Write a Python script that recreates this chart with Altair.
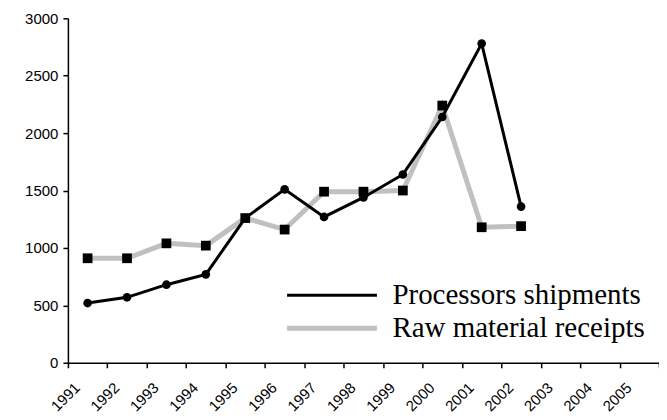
import altair as alt
import pandas as pd

years = list(range(1991, 2003))
processors = [520, 570, 680, 770, 1260, 1510, 1270, 1440, 1640, 2140, 2780, 1360]
raw = [910, 910, 1040, 1020, 1260, 1160, 1490, 1490, 1500, 2240, 1180, 1190]
tick_years = list(range(1991, 2007))
y_ticks = [0, 500, 1000, 1500, 2000, 2500, 3000]
series_names = ["Processors shipments", "Raw material receipts"]

rows = []
for yr, p, r in zip(years, processors, raw):
    rows.append({"year": yr, "series": series_names[0], "value": p})
    rows.append({"year": yr, "series": series_names[1], "value": r})
df = pd.DataFrame(rows)

base = alt.Chart(df).transform_calculate(pos="datum.year + 0.5")

x = alt.X(
    "pos:Q",
    scale=alt.Scale(domain=[1991, 2006], nice=False, zero=False),
    axis=alt.Axis(
        values=tick_years,
        labelExpr="datum.value <= 2005 ? toString(datum.value) : ''",
        labelAngle=315,
        labelAlign="right",
        labelBaseline="middle",
        labelOffset=9,
        labelPadding=17,
        tickSize=5,
        title=None,
        grid=False,
    ),
)
y = alt.Y(
    "value:Q",
    scale=alt.Scale(domain=[0, 3000], nice=False),
    axis=alt.Axis(values=y_ticks, format="d", tickSize=5, labelPadding=5, title=None, grid=False),
)

legend = alt.Legend(
    title=None,
    orient="none",
    legendX=250,
    legendY=263,
    symbolType="M-4,0H4",
    symbolSize=506,
    labelFont="Liberation Serif",
    labelFontSize=29,
    labelColor="black",
    labelOffset=46,
    padding=0,
    rowPadding=3,
    labelLimit=400,
)

color = alt.Color(
    "series:N",
    scale=alt.Scale(domain=series_names, range=["#000000", "#c0c0c0"]),
    legend=legend,
)
width = alt.StrokeWidth(
    "series:N",
    scale=alt.Scale(domain=series_names, range=[3, 5]),
    legend=legend,
)

gray_data = base.transform_filter(alt.datum.series == series_names[1])
black_data = base.transform_filter(alt.datum.series == series_names[0])

gray_line = gray_data.mark_line().encode(x=x, y=y, color=color, strokeWidth=width)
black_line = black_data.mark_line().encode(x=x, y=y, color=color, strokeWidth=width)
squares = gray_data.mark_point(filled=True, color="black", opacity=1, shape="square", size=95).encode(x=x, y=y)
circles = black_data.mark_point(filled=True, color="black", opacity=1, shape="circle", size=75).encode(x=x, y=y)

chart = (
    alt.layer(gray_line, black_line, squares, circles)
    .properties(
        width=592,
        height=345,
        autosize=alt.AutoSizeParams(type="none"),
        padding={"left": 60, "top": 10, "right": 0, "bottom": 50},
    )
    .configure_view(stroke=None)
    .configure_axis(
        labelFont="Liberation Sans",
        labelFontSize=15,
        labelColor="black",
        domainColor="black",
        tickColor="black",
        domainWidth=1.5,
        tickWidth=1.5,
    )
)

chart.save("out.html", embed_options={"renderer": "svg", "actions": False})
